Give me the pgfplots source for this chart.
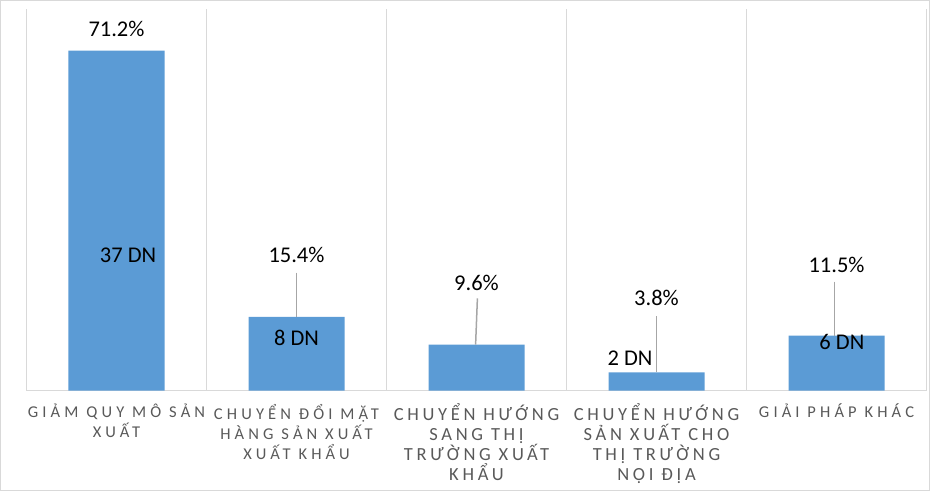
\documentclass[border=0pt]{standalone}
\usepackage{pgfplots}
\pgfplotsset{compat=1.18}
\usepackage{fontspec}
\setmainfont{Carlito}
\newfontfamily\catfont[LetterSpace=25]{Carlito}
\newfontfamily\catfontB[LetterSpace=20]{Carlito}
\definecolor{barblue}{HTML}{5B9BD5}
\definecolor{gridgray}{HTML}{D9D9D9}
\definecolor{leadgray}{HTML}{A6A6A6}
\definecolor{labgray}{HTML}{595959}
\newcommand\bc[1]{{\catfontB\fontsize{18.5bp}{20bp}\selectfont #1}}

\begin{document}
\begin{tikzpicture}
\begin{axis}[
    scale only axis,
    width=900bp, height=382bp,
    xmin=-0.5, xmax=4.5, ymin=0, ymax=80,
    axis y line=none,
    axis x line=bottom,
    x axis line style={-, draw=gridgray, line width=1.5bp},
    xtick={0,1,2,3,4},
    xticklabels={
        {GIẢM QUY MÔ SẢN\\XUẤT},
        {CHUYỂN ĐỔI MẶT\\HÀNG SẢN XUẤT\\XUẤT KHẨU},
        {\bc{CHUYỂN HƯỚNG}\\\bc{SANG THỊ}\\\bc{TRƯỜNG XUẤT}\\\bc{KHẨU}},
        {\bc{CHUYỂN HƯỚNG}\\\bc{SẢN XUẤT CHO}\\\bc{THỊ TRƯỜNG}\\\bc{NỘI ĐỊA}},
        {GIẢI PHÁP KHÁC}},
    xticklabel style={align=center, text=labgray, anchor=north, yshift=-10bp,
        font=\catfont\fontsize{16.5bp}{20bp}\selectfont},
    major tick length=0pt, minor tick length=0pt,
    minor xtick={-0.5,0.5,1.5,2.5,3.5,4.5},
    xminorgrids=true,
    minor grid style={draw=gridgray, line width=1.5bp},
    ytick=\empty,
    clip=false,
]
% bars
\addplot[ybar, bar width=96bp, fill=barblue, draw=none]
    coordinates {(0,71.2) (1,15.4) (2,9.6) (3,3.8) (4,11.5)};
% leader lines
\addplot[leadgray, line width=1.5bp] coordinates {(1,24.7) (1,15.4)};
\addplot[leadgray, line width=1.5bp] coordinates {(2.005,19.3) (1.995,9.6)};
\addplot[leadgray, line width=1.5bp] coordinates {(3,15.5) (3,3.8)};
\addplot[leadgray, line width=1.5bp] coordinates {(3.99,22.8) (3.99,11.5)};
% percentage labels
\addplot[draw=none, mark=none, nodes near coords, point meta=explicit symbolic,
    nodes near coords style={anchor=center, text=black, inner sep=0pt,
        font=\fontsize{22.5bp}{26bp}\selectfont}]
    coordinates {(0,75.8)[71.2\%] (1,28.3)[15.4\%] (2,22.6)[9.6\%]
                 (3,19.3)[3.8\%] (4,26.2)[11.5\%]};
% company counts
\addplot[draw=none, mark=none, nodes near coords, point meta=explicit symbolic,
    nodes near coords style={anchor=center, text=black, inner sep=0pt,
        font=\fontsize{22.5bp}{26bp}\selectfont}]
    coordinates {(0.064,28.3)[37 DN] (1,11.1)[8 DN] (2.853,6.7)[2 DN] (4.03,10.1)[6 DN]};
\end{axis}
\pgfresetboundingbox
\path[use as bounding box] (-26.5bp,-100.5bp) rectangle (903.5bp,390.5bp);
\draw[gridgray, line width=1.5bp] (-25.75bp,-99.75bp) rectangle (902.75bp,389.75bp);
\end{tikzpicture}
\end{document}
